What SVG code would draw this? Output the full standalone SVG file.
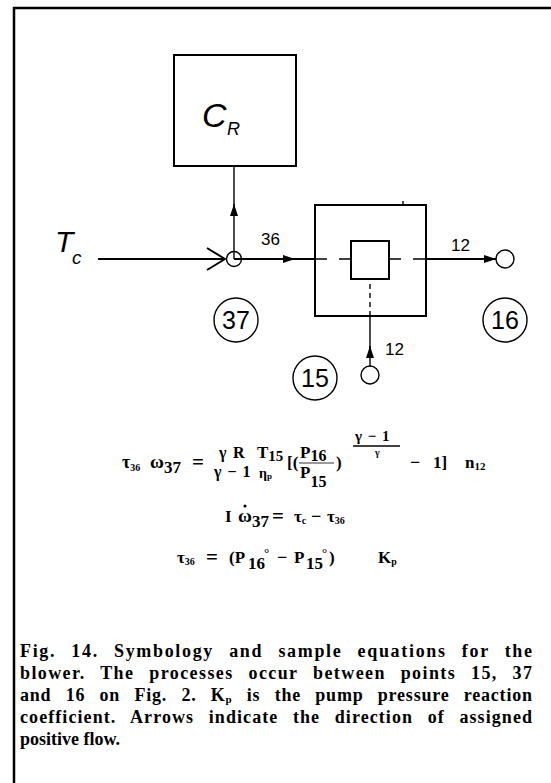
<svg xmlns="http://www.w3.org/2000/svg" width="551" height="783" viewBox="0 0 551 783">
<defs>
<style>
.frame{stroke:#000;stroke-width:2.5;fill:none}
.box{stroke:#000;stroke-width:2;fill:none}
.ln{stroke:#000;stroke-width:2;fill:none}
.thin{stroke:#000;stroke-width:1.4;fill:none}
.dash{stroke:#000;stroke-width:1.5;fill:none;stroke-dasharray:12 12}
.lbl{font-family:"Liberation Sans","DejaVu Sans",sans-serif;fill:#000}
.eq{font-family:"Liberation Serif","DejaVu Serif",serif;font-weight:bold;fill:#000}
.cap{font-family:"Liberation Serif","DejaVu Serif",serif;font-weight:bold;font-size:18px;word-spacing:9px;fill:#000}
</style>
<marker id="tri" viewBox="0 0 12 8" refX="12" refY="4" markerWidth="12" markerHeight="8" markerUnits="userSpaceOnUse" orient="auto">
<path d="M0,0 L12,4 L0,8 Z" fill="#000"/>
</marker>
<marker id="chev" viewBox="0 0 20 24" refX="19" refY="12" markerWidth="20" markerHeight="24" markerUnits="userSpaceOnUse" orient="auto">
<path d="M1,1 L19,12 L1,23" fill="none" stroke="#000" stroke-width="2"/>
</marker>
</defs>
<rect width="551" height="783" fill="#fff"/>
<path class="frame" d="M14,783 L14,8 L551,8"/>

<g id="node-CR">
<rect class="box" x="174" y="55" width="122" height="111"/>
<text class="lbl" x="202" y="127" font-size="34" font-style="italic">C</text>
<text class="lbl" x="227" y="135" font-size="18" font-style="italic">R</text>
</g>

<g id="node-Tc">
<text class="lbl" x="55" y="252" font-size="30" font-style="italic">T</text>
<text class="lbl" x="72" y="264" font-size="19" font-style="italic">c</text>
</g>

<g id="node-37">
<circle class="thin" cx="234" cy="259" r="7.5"/>
<circle class="thin" cx="236" cy="320" r="22"/>
<text class="lbl" x="236" y="329" font-size="25" text-anchor="middle">37</text>
</g>

<g id="node-blower">
<rect class="box" x="315" y="205" width="111" height="111"/>
<line class="thin" x1="403" y1="201" x2="403" y2="205"/>
<rect class="box" x="351" y="241" width="38" height="38"/>
</g>

<g id="node-16">
<circle class="thin" cx="505" cy="259" r="9"/>
<circle class="thin" cx="505" cy="320" r="22"/>
<text class="lbl" x="505" y="329" font-size="25" text-anchor="middle">16</text>
</g>

<g id="node-15">
<circle class="thin" cx="370" cy="375" r="9"/>
<circle class="thin" cx="315" cy="378" r="22"/>
<text class="lbl" x="315" y="387" font-size="25" text-anchor="middle">15</text>
</g>

<g id="connectors">
<line class="ln" x1="98" y1="259" x2="225" y2="259" marker-end="url(#chev)"/>
<line class="thin" x1="234" y1="259" x2="234" y2="204" marker-end="url(#tri)"/>
<line class="thin" x1="234" y1="206" x2="234" y2="166"/>
<line class="ln" x1="234" y1="259" x2="295" y2="259" marker-end="url(#tri)"/>
<line class="ln" x1="293" y1="259" x2="315" y2="259"/>
<line class="dash" x1="315" y1="259" x2="351" y2="259"/>
<line class="dash" x1="389" y1="259" x2="427" y2="259"/>
<line class="ln" x1="426" y1="259" x2="496" y2="259" marker-end="url(#tri)"/>
<line class="thin" x1="370" y1="366" x2="370" y2="346" marker-end="url(#tri)"/>
<line class="thin" x1="370" y1="348" x2="370" y2="316"/>
<line class="thin" x1="370" y1="316" x2="370" y2="279" stroke-dasharray="5 4"/>
<text class="lbl" x="261" y="245" font-size="17">36</text>
<text class="lbl" x="451" y="251" font-size="17">12</text>
<text class="lbl" x="385" y="355" font-size="17">12</text>
</g>

<g id="equations" class="eq">
<text x="122" y="468" font-size="18">τ<tspan font-size="10" dy="3">36</tspan></text>
<text x="150" y="468" font-size="19">ω<tspan font-size="17" dy="5">37</tspan></text>
<text x="192" y="469" font-size="21">=</text>
<text x="219" y="458" font-size="16">γ</text>
<text x="233" y="458" font-size="16">R</text>
<text x="214" y="477" font-size="16" word-spacing="2">γ − 1</text>
<text x="257" y="458" font-size="17">T<tspan font-size="15" dy="3">15</tspan></text>
<text x="259" y="478" font-size="14">η<tspan font-size="9" dy="1">p</tspan></text>
<text x="287" y="468" font-size="17">[(</text>
<text x="300" y="458" font-size="17">P<tspan font-size="16" dy="3">16</tspan></text>
<line x1="299" y1="463" x2="334" y2="463" stroke="#000" stroke-width="0.8"/>
<text x="300" y="478" font-size="17">P<tspan font-size="16" dy="9">15</tspan></text>
<text x="336" y="468" font-size="17">)</text>
<text x="355" y="441" font-size="15" word-spacing="2">γ − 1</text>
<line x1="353" y1="446" x2="400" y2="446" stroke="#000" stroke-width="1.3"/>
<text x="375" y="456" font-size="10">γ</text>
<text x="410" y="468" font-size="18">−</text>
<text x="433" y="468" font-size="17">1]</text>
<text x="465" y="468" font-size="17">n<tspan font-size="11" dy="2">12</tspan></text>

<text x="225" y="522" font-size="17">I</text>
<text x="238" y="522" font-size="19">ω<tspan font-size="17" dy="5">37</tspan></text>
<circle cx="245" cy="506" r="1.6" fill="#000"/>
<text x="272" y="523" font-size="21">=</text>
<text x="294" y="522" font-size="17">τ<tspan font-size="10" dy="2">c</tspan></text>
<text x="311" y="522" font-size="18">−</text>
<text x="327" y="522" font-size="17">τ<tspan font-size="10" dy="2">36</tspan></text>

<text x="177" y="563" font-size="17">τ<tspan font-size="10" dy="2">36</tspan></text>
<text x="206" y="564" font-size="21">=</text>
<text x="229" y="563" font-size="17">(P</text>
<text x="248" y="569" font-size="17">16</text>
<text x="264" y="557" font-size="13">°</text>
<text x="277" y="563" font-size="18">−</text>
<text x="294" y="563" font-size="17">P</text>
<text x="306" y="569" font-size="17">15</text>
<text x="322" y="557" font-size="13">°</text>
<text x="329" y="563" font-size="17">)</text>
<text x="378" y="563" font-size="17">K<tspan font-size="10" dy="2">p</tspan></text>
</g>

<g id="caption" class="cap">
<text x="20" y="657" textLength="512" lengthAdjust="spacing">Fig. 14.  Symbology and sample equations for the</text>
<text x="20" y="679" textLength="512" lengthAdjust="spacing">blower.  The processes occur between points 15, 37</text>
<text x="20" y="701" textLength="512" lengthAdjust="spacing">and 16 on Fig. 2.  K<tspan font-size="11" dy="2">p</tspan><tspan dy="-2"> is the pump pressure reaction</tspan></text>
<text x="20" y="723" textLength="512" lengthAdjust="spacing">coefficient.  Arrows indicate the direction of assigned</text>
<text x="20" y="745" word-spacing="0">positive flow.</text>
</g>
</svg>
